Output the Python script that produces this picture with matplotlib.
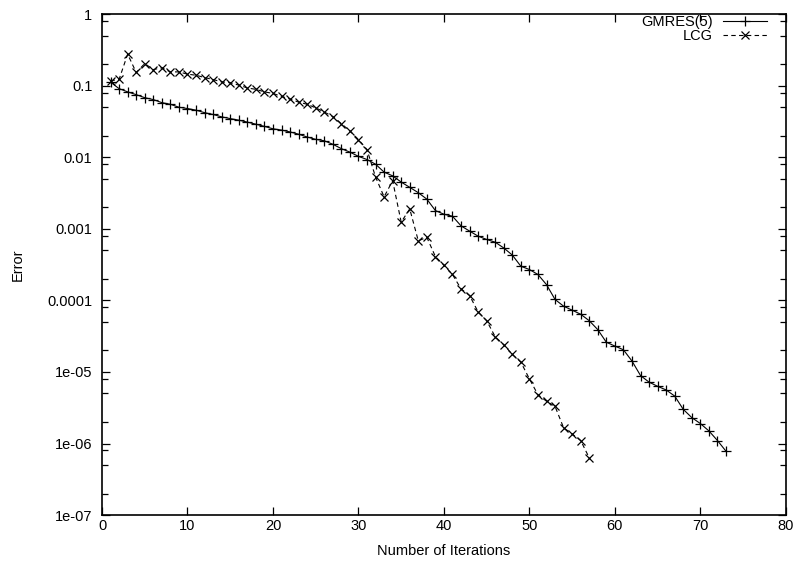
import numpy as np
import matplotlib
matplotlib.use('Agg')
import matplotlib.pyplot as plt
from matplotlib.ticker import LogLocator, FixedLocator, NullFormatter

# error per iteration
gmres_iter = np.arange(1, 74)
gmres_err = [0.112, 0.091, 0.082, 0.075, 0.068, 0.064, 0.058, 0.055, 0.050, 0.048,
             0.0455, 0.042, 0.0396, 0.0367, 0.0347, 0.033, 0.031, 0.029, 0.027, 0.025,
             0.024, 0.0226, 0.021, 0.0192, 0.0178, 0.017, 0.0152, 0.0132, 0.0118, 0.0103,
             0.0093, 0.0080, 0.0062, 0.0055, 0.0045, 0.0038, 0.0032, 0.0026, 0.0018, 0.0016,
             0.0015, 0.0011, 0.00093, 0.00079, 0.00071, 0.00065, 0.00054, 0.00043, 0.00030, 0.00027,
             0.00023, 0.000166, 0.000103, 0.000083, 0.000073, 0.000064, 0.000052, 0.000039, 0.000026, 0.000023,
             2.04e-5, 1.42e-5, 8.9e-6, 7.2e-6, 6.3e-6, 5.6e-6, 4.6e-6, 3.0e-6, 2.3e-6, 1.9e-6,
             1.5e-6, 1.1e-6, 7.8e-7]

lcg_iter = np.arange(1, 58)
lcg_err = [0.117, 0.123, 0.276, 0.153, 0.204, 0.168, 0.178, 0.156, 0.156, 0.145,
           0.140, 0.130, 0.122, 0.113, 0.110, 0.102, 0.093, 0.089, 0.082, 0.078,
           0.071, 0.065, 0.059, 0.055, 0.049, 0.043, 0.037, 0.0295, 0.0233, 0.0177,
           0.0128, 0.0053, 0.0028, 0.0047, 0.00124, 0.0019, 0.00068, 0.00076, 0.00041, 0.00031,
           0.00023, 0.000145, 0.000117, 0.000069, 0.000052, 0.000031, 0.000024, 1.76e-5, 1.37e-5, 8.0e-6,
           4.8e-6, 3.9e-6, 3.3e-6, 1.66e-6, 1.36e-6, 1.1e-6, 6.3e-7]

y_ticks = [1e-7, 1e-6, 1e-5, 1e-4, 1e-3, 1e-2, 1e-1, 1]
y_labels = ['1e-07', '1e-06', '1e-05', '0.0001', '0.001', '0.01', '0.1', '1']

plt.rcParams['font.family'] = ['Liberation Sans', 'DejaVu Sans']
plt.rcParams['font.size'] = 10.5

fig = plt.figure(figsize=(7.97, 5.66), dpi=100)
ax = fig.add_axes([0.128, 0.090, 0.858, 0.885])

ax.plot(gmres_iter, gmres_err, color='black', lw=0.8, marker='+', ms=6.5, mew=0.9,
        label='GMRES(5)')
ax.plot(lcg_iter, lcg_err, color='black', lw=0.8, ls=(0, (4, 3)), marker='x', ms=6, mew=0.9,
        label='LCG')

ax.set_yscale('log')
ax.set_xlim(0, 80)
ax.set_ylim(1e-7, 1)
ax.set_xticks(np.arange(0, 81, 10))
ax.yaxis.set_major_locator(FixedLocator(y_ticks))
ax.set_yticklabels(y_labels)
ax.yaxis.set_minor_locator(LogLocator(base=10, subs=(2, 5, 8)))
ax.yaxis.set_minor_formatter(NullFormatter())

ax.tick_params(which='both', direction='in', top=True, right=True, width=0.9)
ax.tick_params(which='major', length=6)
ax.tick_params(which='minor', length=4)
ax.tick_params(axis='x', pad=3)
ax.tick_params(axis='y', pad=7)
for s in ax.spines.values():
    s.set_linewidth(1.2)

ax.set_xlabel('Number of Iterations')
ax.set_ylabel('Error')
ax.xaxis.set_label_coords(0.5, -0.058)
ax.yaxis.set_label_coords(-0.113, 0.5)

ax.legend(loc='upper right', bbox_to_anchor=(0.972, 0.999), frameon=False, markerfirst=False,
          handlelength=3.0, handletextpad=0.7, labelspacing=0.0, borderaxespad=0, borderpad=0)

fig.savefig('out.png', dpi=100)
